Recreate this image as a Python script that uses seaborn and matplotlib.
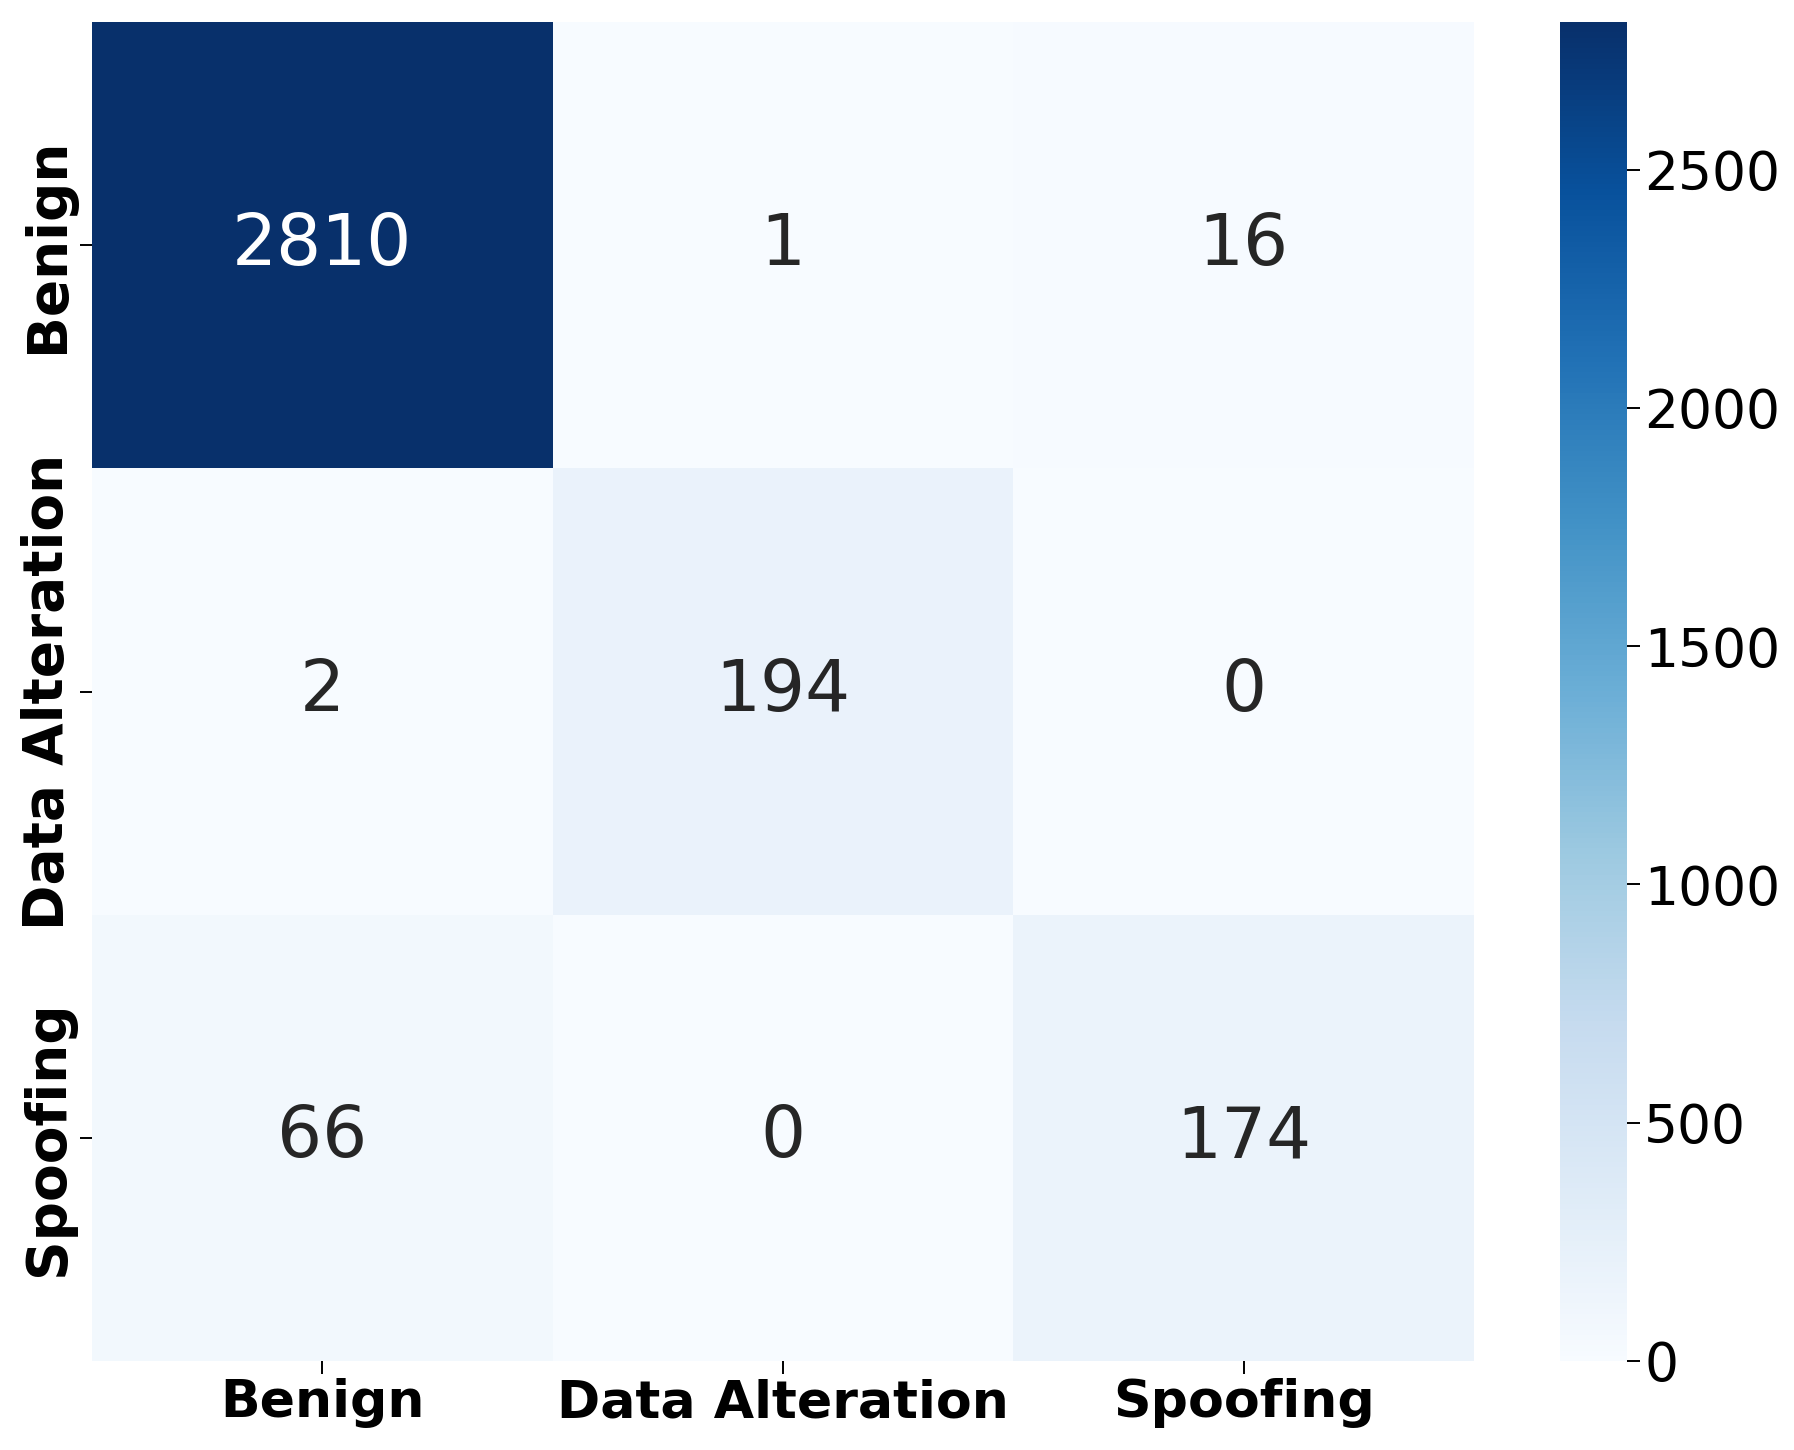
import numpy as np
import pandas as pd
import matplotlib
matplotlib.use("Agg")
import matplotlib.pyplot as plt
import seaborn as sns

labels = ["Benign", "Data Alteration", "Spoofing"]
row_benign = [2810, 1, 16]
row_alteration = [2, 194, 0]
row_spoofing = [66, 0, 174]

cm = pd.DataFrame([row_benign, row_alteration, row_spoofing], index=labels, columns=labels)

fig = plt.figure(figsize=(17.94, 14.5), dpi=100)
W, H = 1794, 1450
ax = fig.add_axes([92 / W, 1 - 1361 / H, (1474 - 92) / W, (1361 - 22) / H])
cax = fig.add_axes([1560 / W, 1 - 1361 / H, (1627 - 1560) / W, (1361 - 22) / H])

sns.heatmap(cm, annot=True, fmt="d", cmap="Blues", ax=ax, cbar_ax=cax,
            annot_kws={"fontsize": 51})

ax.tick_params(axis="both", length=9, width=1.4)
for t in ax.get_xticklabels():
    t.set_fontweight("bold")
    t.set_fontsize(37.5)
    t.set_rotation(0)
for t in ax.get_yticklabels():
    t.set_fontweight("bold")
    t.set_fontsize(39.5)
    t.set_rotation(90)
    t.set_va("center")

cax.tick_params(length=9, width=1.4, labelsize=38.5)
cax.set_yticks([0, 500, 1000, 1500, 2000, 2500])

fig.savefig("out.png", dpi=100)
